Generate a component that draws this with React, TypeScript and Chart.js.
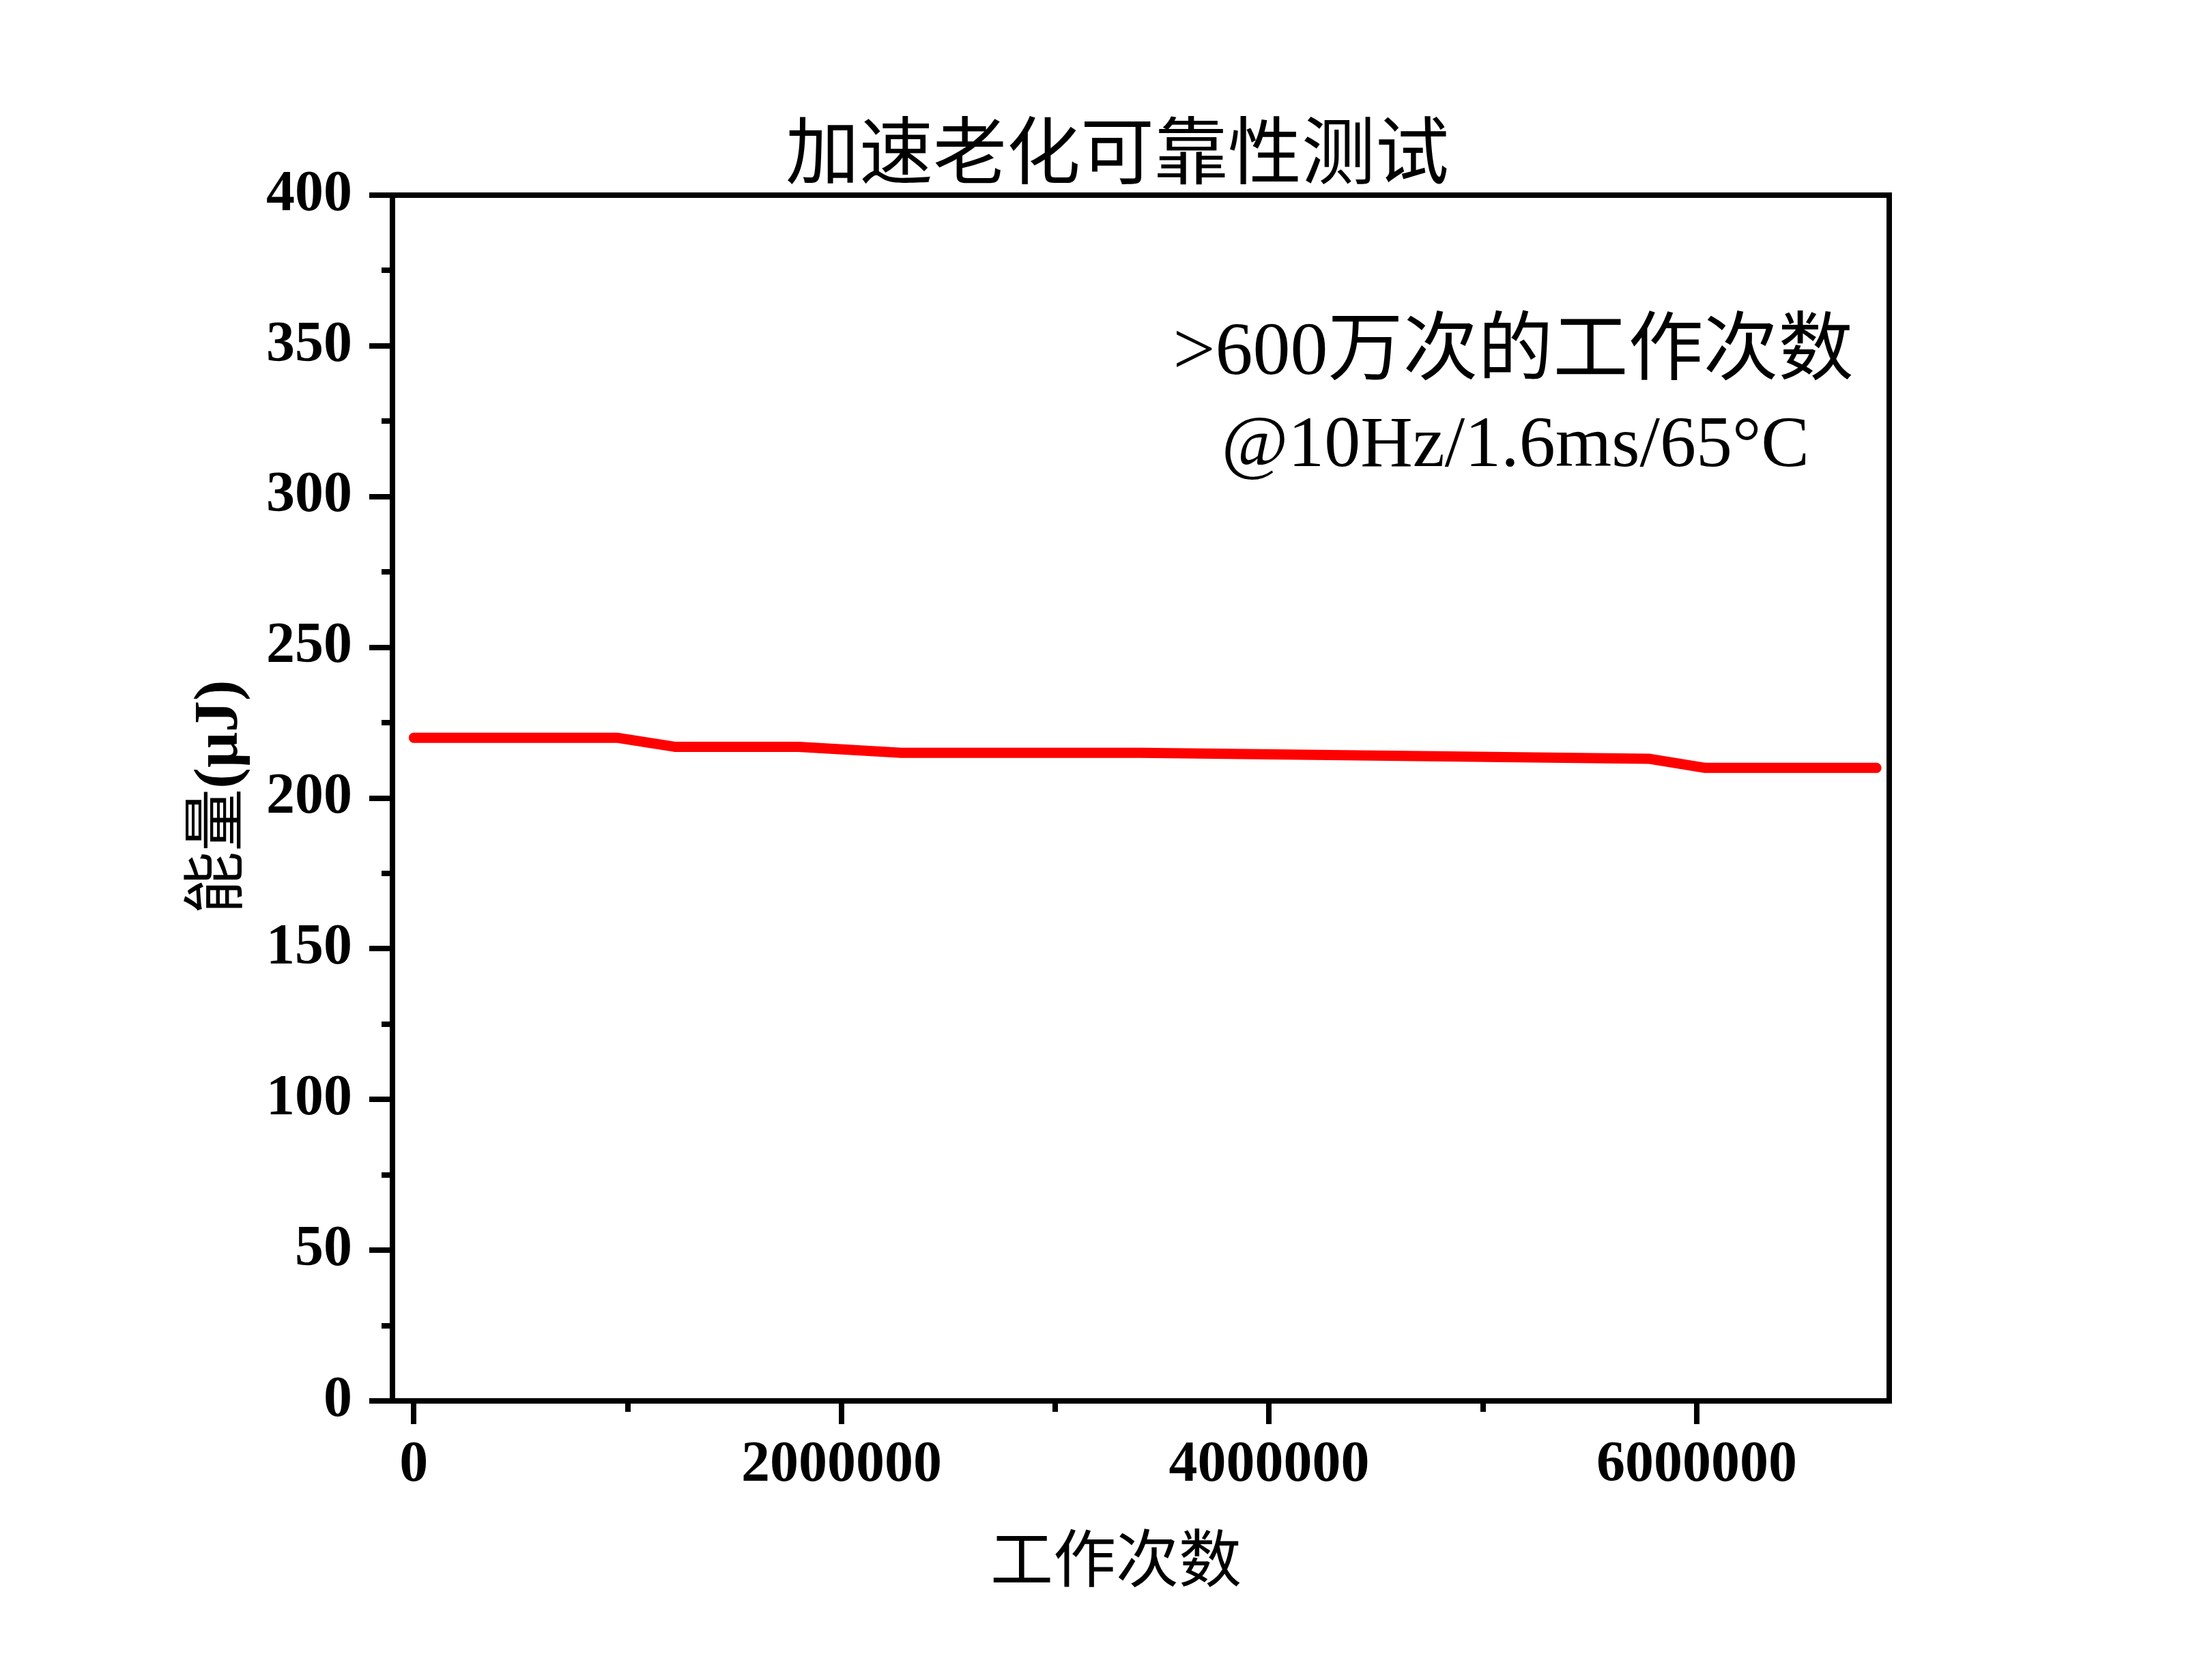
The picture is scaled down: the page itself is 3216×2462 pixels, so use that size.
import React, { useEffect, useRef } from "react";
import { Chart, registerables } from "chart.js";

Chart.register(...registerables);

// ---- data ----
const cycles = [0, 950000, 1220000, 1800000, 2280000, 3400000, 5780000, 6040000, 6840000];
const energy = [220, 220, 217, 217, 215, 215, 213, 210, 210];

const xMajorTicks = [0, 2000000, 4000000, 6000000];
const xMinorTicks = [1000000, 3000000, 5000000];
const yMajorTicks = [0, 50, 100, 150, 200, 250, 300, 350, 400];
const yMinorTicks = [25, 75, 125, 175, 225, 275, 325, 375];

const chartTitle = "加速老化可靠性测试";
const xTitle = "工作次数";
const yTitleCjk = "能量";
const yTitleUnit = "(μJ)";
const noteLine1 = ">600万次的工作次数";
const noteLine2 = "@10Hz/1.6ms/65°C";

// ---- styles ----
const SERIF = "'Liberation Serif', 'Times New Roman', serif";
const CJK = "'Noto Sans CJK SC', 'Noto Sans CJK JP', sans-serif";
const W = 3200;
const H = 2446;
const AREA = { left: 567, right: 2760, top: 278, bottom: 2045 };

function drawText(
  ctx: CanvasRenderingContext2D,
  text: string,
  font: string,
  cx: number,
  cy: number | null,
  baseline?: number
) {
  ctx.font = font;
  ctx.textAlign = "left";
  ctx.textBaseline = "alphabetic";
  const m = ctx.measureText(text);
  const x = cx - (m.actualBoundingBoxRight - m.actualBoundingBoxLeft) / 2;
  const y =
    baseline !== undefined
      ? baseline
      : (cy as number) + (m.actualBoundingBoxAscent - m.actualBoundingBoxDescent) / 2;
  ctx.fillText(text, x, y);
}

const decorPlugin = {
  id: "decor",
  afterDraw(chart: any) {
    const ctx: CanvasRenderingContext2D = chart.ctx;
    const area = chart.chartArea;
    const xs = chart.scales.x;
    const ys = chart.scales.y;
    ctx.save();
    // minor ticks
    ctx.strokeStyle = "#000";
    ctx.lineWidth = 8;
    ctx.lineCap = "butt";
    for (const v of yMinorTicks) {
      const py = Math.round(ys.getPixelForValue(v));
      ctx.beginPath();
      ctx.moveTo(area.left - 16, py);
      ctx.lineTo(area.left, py);
      ctx.stroke();
    }
    for (const v of xMinorTicks) {
      const px = Math.round(xs.getPixelForValue(v));
      ctx.beginPath();
      ctx.moveTo(px, area.bottom);
      ctx.lineTo(px, area.bottom + 16);
      ctx.stroke();
    }

    ctx.fillStyle = "#000";
    // main title
    drawText(ctx, chartTitle, `108px ${CJK}`, 1629, 212);
    // x axis title
    drawText(ctx, xTitle, `92px ${CJK}`, 1628, 2275);
    // annotation
    drawText(ctx, noteLine1, `110px ${SERIF.replace(", serif", "")}, ${CJK}`, 2210, null, 540);
    drawText(ctx, noteLine2, `106px ${SERIF}`, 2212, null, 675);

    // y axis title (rotated, mixed fonts)
    const f1 = `92px ${CJK}`;
    const f2 = `bold 92px ${SERIF}`;
    ctx.textAlign = "left";
    ctx.textBaseline = "alphabetic";
    ctx.font = f1;
    const m1 = ctx.measureText(yTitleCjk);
    ctx.font = f2;
    const m2 = ctx.measureText(yTitleUnit);
    const total = m1.width + m2.width;
    const asc = Math.max(m1.actualBoundingBoxAscent, m2.actualBoundingBoxAscent);
    const desc = Math.max(m1.actualBoundingBoxDescent, m2.actualBoundingBoxDescent);
    ctx.translate(310, 1160);
    ctx.rotate(-Math.PI / 2);
    const by = (asc - desc) / 2;
    ctx.font = f1;
    ctx.fillText(yTitleCjk, -total / 2, by);
    ctx.font = f2;
    ctx.fillText(yTitleUnit, -total / 2 + m1.width, by);
    ctx.restore();
  },
};

const tickFont = { family: SERIF, size: 84, weight: "bold" as const };
const axisGrid = {
  display: true,
  drawOnChartArea: false,
  drawTicks: true,
  tickLength: 34,
  tickWidth: 8,
  tickColor: "#000",
  lineWidth: 8,
  color: "#000",
};
const axisBorder = { display: true, width: 8, color: "#000" };
const hiddenGrid = { display: false, drawTicks: false, lineWidth: 8, color: "#000" };

export default function App() {
  const ref = useRef<HTMLCanvasElement>(null);

  useEffect(() => {
    if (!ref.current) return;
    const chart = new Chart(ref.current, {
      type: "line",
      data: {
        datasets: [
          {
            label: "能量",
            data: cycles.map((c, i) => ({ x: c, y: energy[i] })),
            borderColor: "#FF0000",
            backgroundColor: "#FF0000",
            borderWidth: 15,
            borderCapStyle: "round",
            borderJoinStyle: "round",
            tension: 0,
            pointRadius: 0,
            fill: false,
          },
        ],
      },
      options: {
        animation: false,
        responsive: false,
        devicePixelRatio: 1,
        layout: { padding: 0 },
        plugins: {
          legend: { display: false },
          title: { display: false },
          tooltip: { enabled: false },
        },
        scales: {
          x: {
            type: "linear",
            position: "bottom",
            min: -100000,
            max: 6900000,
            afterBuildTicks: (s: any) => {
              s.ticks = xMajorTicks.map((v) => ({ value: v }));
            },
            afterFit: (s: any) => {
              s.height = H - AREA.bottom;
            },
            ticks: {
              autoSkip: false,
              maxRotation: 0,
              minRotation: 0,
              padding: 11,
              color: "#000",
              font: tickFont,
              callback: (v: any) => String(v),
            },
            grid: axisGrid,
            border: axisBorder,
          },
          y: {
            type: "linear",
            position: "left",
            min: 0,
            max: 400,
            afterBuildTicks: (s: any) => {
              s.ticks = yMajorTicks.map((v) => ({ value: v }));
            },
            afterFit: (s: any) => {
              s.width = AREA.left;
            },
            ticks: {
              autoSkip: false,
              padding: 25,
              color: "#000",
              font: tickFont,
              callback: (v: any) => String(v),
            },
            grid: axisGrid,
            border: axisBorder,
          },
          x2: {
            type: "linear",
            position: "top",
            min: -100000,
            max: 6900000,
            afterFit: (s: any) => {
              s.height = AREA.top;
            },
            ticks: { display: false },
            grid: hiddenGrid,
            border: axisBorder,
          },
          y2: {
            type: "linear",
            position: "right",
            min: 0,
            max: 400,
            afterFit: (s: any) => {
              s.width = W - AREA.right;
            },
            ticks: { display: false },
            grid: hiddenGrid,
            border: axisBorder,
          },
        },
      } as any,
      plugins: [decorPlugin],
    });
    return () => chart.destroy();
  }, []);

  return (
    <canvas
      ref={ref}
      width={W}
      height={H}
      style={{ display: "block", width: `${W}px`, height: `${H}px` }}
    />
  );
}
